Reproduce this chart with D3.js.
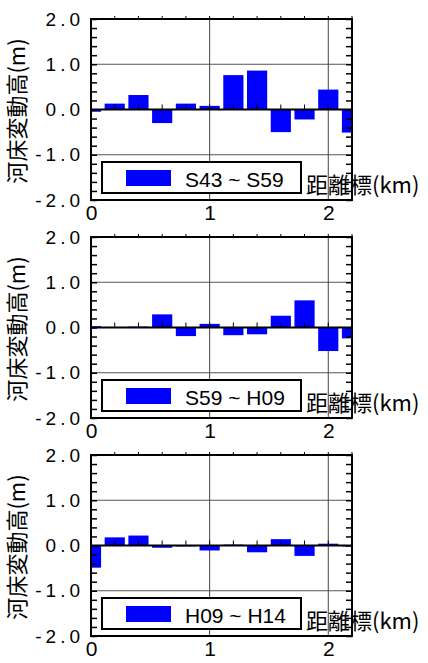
<!DOCTYPE html>
<html>
<head>
<meta charset="utf-8">
<script src="https://cdn.jsdelivr.net/npm/d3@7"></script>
<style>
  body { margin: 0; background: #fff; }
  svg { display: block; }
  .tick text { font-family: "Liberation Sans", Arial, sans-serif; fill: #000; }
  .ttl { font-family: "Noto Sans CJK JP", sans-serif; fill: #000; }
</style>
</head>
<body>
<svg id="chart" width="428" height="663"></svg>
<script>
// distance markers (km) and bed level change (m) per period
const distances = [0, 0.2, 0.4, 0.6, 0.8, 1.0, 1.2, 1.4, 1.6, 1.8, 2.0, 2.2]
const periods = ["S43 ~ S59", "S59 ~ H09", "H09 ~ H14"]
const s43ToS59 = [-0.05, 0.13, 0.32, -0.30, 0.13, 0.08, 0.76, 0.86, -0.50, -0.22, 0.44, -0.51]
const s59ToH09 = [0.03, 0.0, 0.02, 0.29, -0.19, 0.08, -0.17, -0.15, 0.26, 0.60, -0.52, -0.24]
const h09ToH14 = [-0.49, 0.18, 0.22, -0.05, -0.02, -0.11, 0.02, -0.15, 0.14, -0.23, 0.04, -0.02]
const yTicks = [-2, -1, 0, 1, 2]
const xTicks = [0, 1, 2]

const series = [s43ToS59, s59ToH09, h09ToH14]
const panelTops = [19, 237, 455]
const left = 91, right = 352, plotH = 181
const barHalf = 0.085

const svg = d3.select("#chart")
const x = d3.scaleLinear().domain([0, 2.2]).range([left, right])
const minorY = d3.range(-20, 21, 2).map((d) => d / 10)
const minorX = d3.range(0, 12).map((d) => d / 5)
// plain hyphen for negatives, like the original
const fmt = (d) => d.toFixed(1)
const isMajor = (d) => yTicks.some((t) => Math.abs(t - d) < 1e-6)

series.forEach((values, p) => {
  const top = panelTops[p]
  const y = d3.scaleLinear().domain([-2, 2]).range([top + plotH, top])
  const g = svg.append("g")
  const clipId = "clip" + p
  svg.append("clipPath").attr("id", clipId)
    .append("rect").attr("x", left).attr("y", top).attr("width", right - left).attr("height", plotH)

  // grid
  g.selectAll("line.hgrid").data([-1, 1]).enter().append("line")
    .attr("x1", left).attr("x2", right)
    .attr("y1", (d) => y(d)).attr("y2", (d) => y(d))
    .attr("stroke", "#555").attr("stroke-width", 1)
  g.selectAll("line.vgrid").data([1, 2]).enter().append("line")
    .attr("x1", (d) => x(d)).attr("x2", (d) => x(d))
    .attr("y1", top).attr("y2", top + plotH)
    .attr("stroke", "#444").attr("stroke-width", 1)

  // bars
  g.append("g").attr("clip-path", `url(#${clipId})`)
    .selectAll("rect").data(values).enter().append("rect")
    .attr("x", (d, i) => x(distances[i] - barHalf))
    .attr("width", (d, i) => x(distances[i] + barHalf) - x(distances[i] - barHalf))
    .attr("y", (d) => y(Math.max(0, d)))
    .attr("height", (d) => Math.abs(y(d) - y(0)))
    .attr("fill", "#0000ff")

  // zero line with small ticks
  g.append("line").attr("x1", left).attr("x2", right)
    .attr("y1", y(0)).attr("y2", y(0))
    .attr("stroke", "#000").attr("stroke-width", 2)
  g.selectAll("line.zt").data(minorX.slice(1)).enter().append("line")
    .attr("x1", (d) => x(d)).attr("x2", (d) => x(d))
    .attr("y1", y(0)).attr("y2", y(0) - 5)
    .attr("stroke", "#000").attr("stroke-width", 1)

  // top ticks
  g.selectAll("line.tt").data(minorX.slice(1)).enter().append("line")
    .attr("x1", (d) => x(d)).attr("x2", (d) => x(d))
    .attr("y1", top).attr("y2", top - 3)
    .attr("stroke", "#000").attr("stroke-width", 1)

  // left axis: inward minor ticks + labels
  const la = g.append("g").attr("transform", `translate(${left},0)`)
    .call(d3.axisLeft(y).tickValues(minorY).tickSize(-6).tickPadding(7)
      .tickFormat((d) => (isMajor(d) ? fmt(d) : "")))
  la.select(".domain").remove()
  la.selectAll(".tick line").attr("stroke-width", 1.5)
  la.selectAll(".tick text").attr("font-size", 19).style("letter-spacing", "4px")

  // right axis ticks inward
  const ra = g.append("g").attr("transform", `translate(${right},0)`)
    .call(d3.axisRight(y).tickValues(minorY).tickSize(-6).tickFormat(""))
  ra.select(".domain").remove()
  ra.selectAll(".tick line").attr("stroke-width", 1.5)

  // bottom labels
  const ba = g.append("g").attr("transform", `translate(0,${top + plotH})`)
    .call(d3.axisBottom(x).tickValues(xTicks).tickSize(0).tickPadding(5).tickFormat(d3.format("d")))
  ba.select(".domain").remove()
  ba.selectAll(".tick text").attr("font-size", 21)

  // frame
  g.append("rect").attr("x", left).attr("y", top).attr("width", right - left).attr("height", plotH)
    .attr("fill", "none").attr("stroke", "#000").attr("stroke-width", 2)

  // legend
  g.append("rect").attr("x", 102).attr("y", top + 143).attr("width", 199).attr("height", 31)
    .attr("fill", "#fff").attr("stroke", "#000").attr("stroke-width", 2)
  g.append("rect").attr("x", 126).attr("y", top + 151).attr("width", 45).attr("height", 16)
    .attr("fill", "#0000ff")
  g.append("text").attr("x", 185).attr("y", top + 168)
    .attr("font-family", "Liberation Sans, Arial, sans-serif").attr("font-size", 21)
    .text(periods[p])

  // axis titles
  g.append("text").attr("class", "ttl").attr("x", 306).attr("y", top + 174)
    .attr("font-size", 22).text("距離標(km)")
  g.append("text").attr("class", "ttl")
    .attr("transform", `translate(25,${top + 92}) rotate(-90)`)
    .attr("text-anchor", "middle").attr("font-size", 22).text("河床変動高(m)")
})
</script>
</body>
</html>
